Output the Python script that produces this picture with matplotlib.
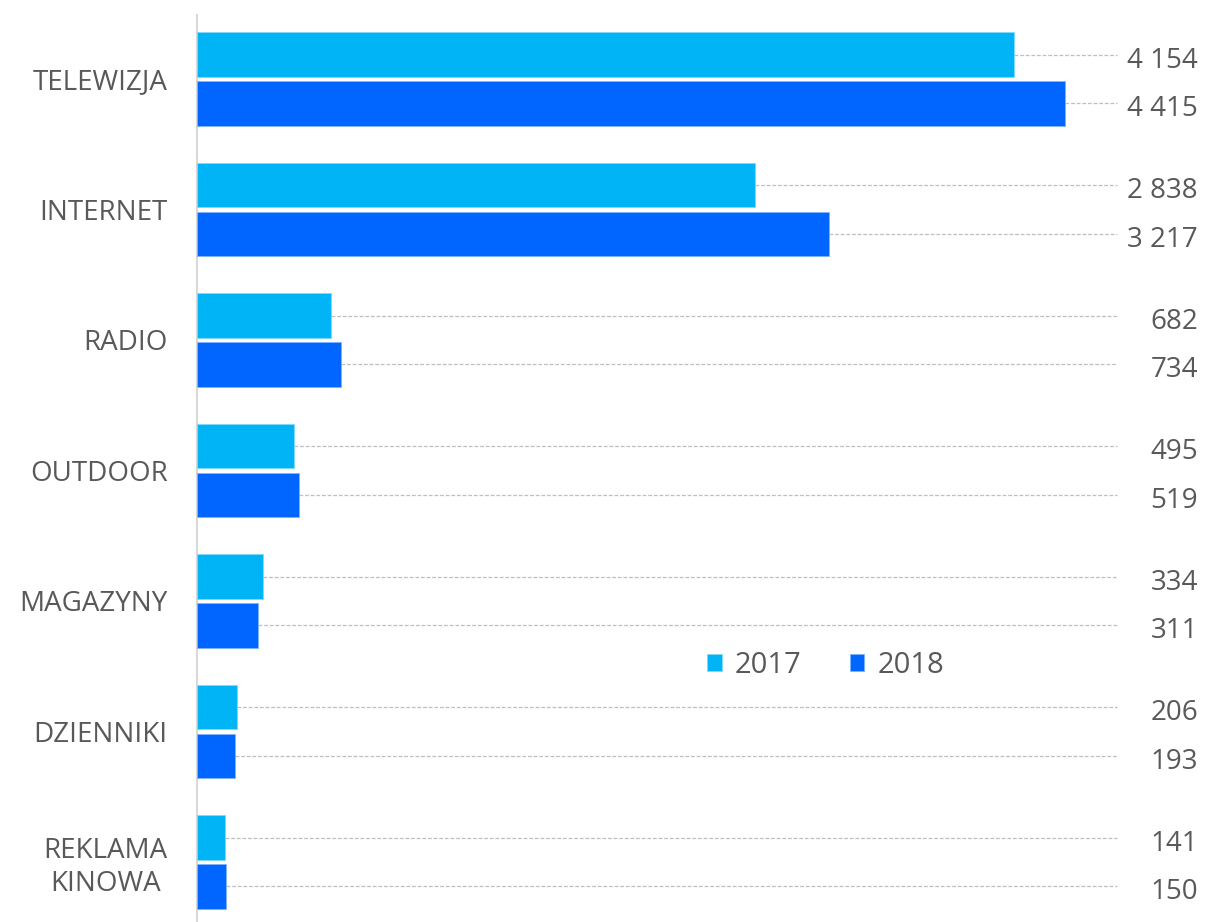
import matplotlib.pyplot as plt
import numpy as np

# dane: wydatki reklamowe wg mediów
kategorie = ['TELEWIZJA', 'INTERNET', 'RADIO', 'OUTDOOR', 'MAGAZYNY', 'DZIENNIKI', 'REKLAMA\nKINOWA']
lata = ['2017', '2018']
wartosci_2017 = [4154, 2838, 682, 495, 334, 206, 141]
wartosci_2018 = [4415, 3217, 734, 519, 311, 193, 150]

kolory = ['#00B4F6', '#0066FF']
szary_tekst = '#595959'

plt.rcParams['font.family'] = ['Open Sans', 'DejaVu Sans']

fig = plt.figure(figsize=(12.08, 9.22), dpi=100)
ax = fig.add_axes([197 / 1208, 0, 1011 / 1208, 907 / 922])

y = np.arange(len(kategorie))
wys = 0.34
off = 0.187
xmax = 1011 / 0.1966

ax.set_xlim(0, xmax)
ax.set_ylim(6.46, -0.49)

ax.barh(y - off, wartosci_2017, height=wys, color=kolory[0], edgecolor='#7fd9fa', linewidth=0.6, label=lata[0], zorder=3)
ax.barh(y + off, wartosci_2018, height=wys, color=kolory[1], edgecolor='#7fb2ff', linewidth=0.6, label=lata[1], zorder=3)

# linie prowadzące i etykiety wartości
tr = ax.get_yaxis_transform()
koniec_linii = 0.91 * xmax
for serie, przes in [(wartosci_2017, -off), (wartosci_2018, off)]:
    for i, v in enumerate(serie):
        ax.plot([v, koniec_linii], [i + przes, i + przes],
                color='#BFBFBF', lw=0.9, ls=(0, (3, 1.5)), zorder=2)
        ax.text(0.99, i + przes + 0.02, f'{v:,}'.replace(',', ' '), transform=tr,
                ha='right', va='center_baseline', fontsize=20, color=szary_tekst)

ax.set_yticks(y)
ax.set_yticklabels(kategorie, fontsize=20, color=szary_tekst, multialignment='center')
ax.tick_params(axis='y', length=0, pad=21)
ax.set_xticks([])

for s in ['top', 'right', 'bottom']:
    ax.spines[s].set_visible(False)
ax.spines['left'].set_color('#D9D9D9')
ax.spines['left'].set_linewidth(1.5)

leg = ax.legend(loc='center', bbox_to_anchor=(0.622, 0.283), ncol=2, frameon=False,
                fontsize=21, handlelength=0.5, handleheight=0.5, handletextpad=0.45,
                columnspacing=1.65)
for t in leg.get_texts():
    t.set_color(szary_tekst)

fig.savefig('out.png', dpi=100)
